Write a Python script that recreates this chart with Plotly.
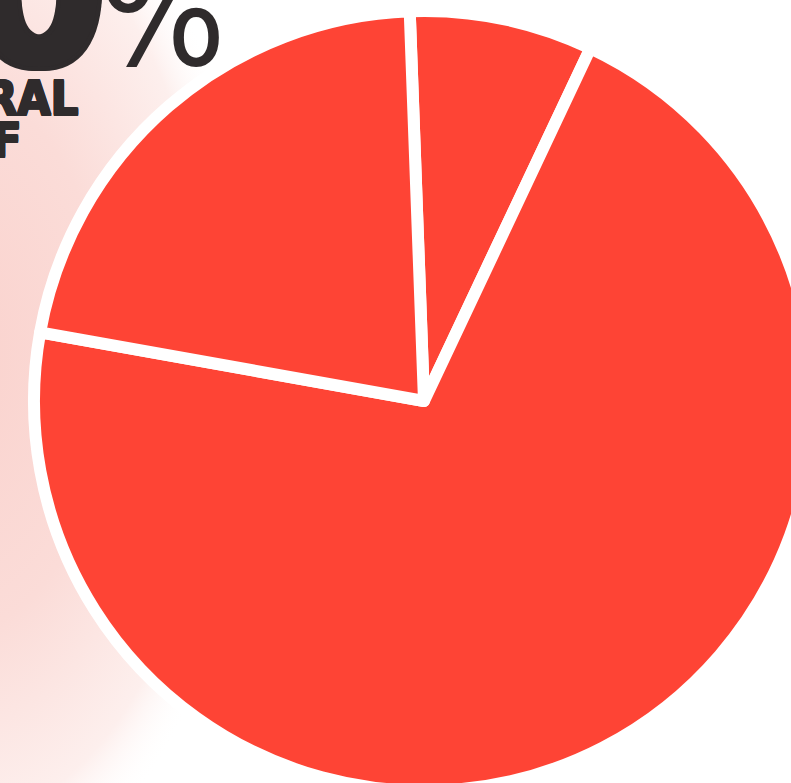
import base64
import plotly.graph_objects as go

# ---- data ----
slice_labels = ["Segment A", "Segment B", "Segment C"]
slice_values = [7.6, 70.8, 21.6]
headline_number = "0%"
caption_line1 = "RAL"
caption_line2 = "F"

# ---- geometry / style ----
W, H = 848, 791          # figure larger than the window; the window crops it
PIE_TOP = 11             # px from the top of the figure
RED = "#fe4435"
INK = "#2f2b2c"


def px_x(p):
    return p / W


def px_y(p):
    return 1 - p / H


# soft pink glow on the left side, as an SVG background image
svg = (
    '<svg xmlns="http://www.w3.org/2000/svg" width="500" height="791" '
    'viewBox="0 0 500 791" preserveAspectRatio="none">'
    '<defs><radialGradient id="g" gradientUnits="userSpaceOnUse" cx="0" cy="0" r="1" '
    'gradientTransform="translate(-40 360) scale(300 540)">'
    '<stop offset="0" stop-color="#fad2cd" stop-opacity="1"/>'
    '<stop offset="0.5" stop-color="#fbdcd8" stop-opacity="1"/>'
    '<stop offset="0.85" stop-color="#fdefed" stop-opacity="1"/>'
    '<stop offset="1" stop-color="#ffffff" stop-opacity="0"/>'
    '</radialGradient></defs>'
    '<rect x="0" y="0" width="500" height="791" fill="url(#g)"/></svg>'
)
svg_uri = "data:image/svg+xml;base64," + base64.b64encode(svg.encode()).decode()

fig = go.Figure(
    go.Pie(
        labels=slice_labels,
        values=slice_values,
        sort=False,
        direction="clockwise",
        rotation=-2.1,
        textinfo="none",
        hoverinfo="label+percent",
        showlegend=False,
        marker=dict(colors=[RED] * len(slice_values),
                    line=dict(color="white", width=12)),
        domain=dict(x=[0, 1], y=[0, 1 - PIE_TOP / H]),
    )
)

fig.add_layout_image(
    dict(source=svg_uri, xref="paper", yref="paper", x=0, y=1,
         sizex=500 / W, sizey=1, xanchor="left", yanchor="top",
         sizing="stretch", layer="below")
)

fat = lambda d: ", ".join(f"{x}px {y}px 0 {INK}" for x, y in
                          [(d, 0), (-d, 0), (0, d), (0, -d), (d, d), (-d, d), (d, -d), (-d, -d)])

annotations = [
    dict(text=headline_number[0], x=px_x(110), y=px_y(118), xanchor="right", yanchor="bottom",
         font=dict(family="DejaVu Sans Condensed", size=220, color=INK, weight=900, shadow=fat(4))),
    dict(text=headline_number[1], x=px_x(96), y=px_y(102), xanchor="left", yanchor="bottom",
         font=dict(family="DejaVu Sans Condensed", size=150, color=INK)),
    dict(text=caption_line1, x=px_x(80), y=px_y(98), xanchor="right", yanchor="middle",
         font=dict(family="DejaVu Sans Condensed", size=48, color=INK, weight=900, shadow=fat(1))),
    dict(text=caption_line2, x=px_x(24), y=px_y(140), xanchor="right", yanchor="middle",
         font=dict(family="DejaVu Sans Condensed", size=48, color=INK, weight=900, shadow=fat(1))),
]
for a in annotations:
    a.update(xref="paper", yref="paper", showarrow=False)

fig.update_layout(
    width=W,
    height=H,
    margin=dict(l=0, r=0, t=0, b=0),
    paper_bgcolor="white",
    plot_bgcolor="white",
    annotations=annotations,
)

fig.write_html(
    "out.html",
    post_script="document.documentElement.style.overflow='hidden';"
                "document.body.style.overflow='hidden';document.body.style.margin='0';",
)
